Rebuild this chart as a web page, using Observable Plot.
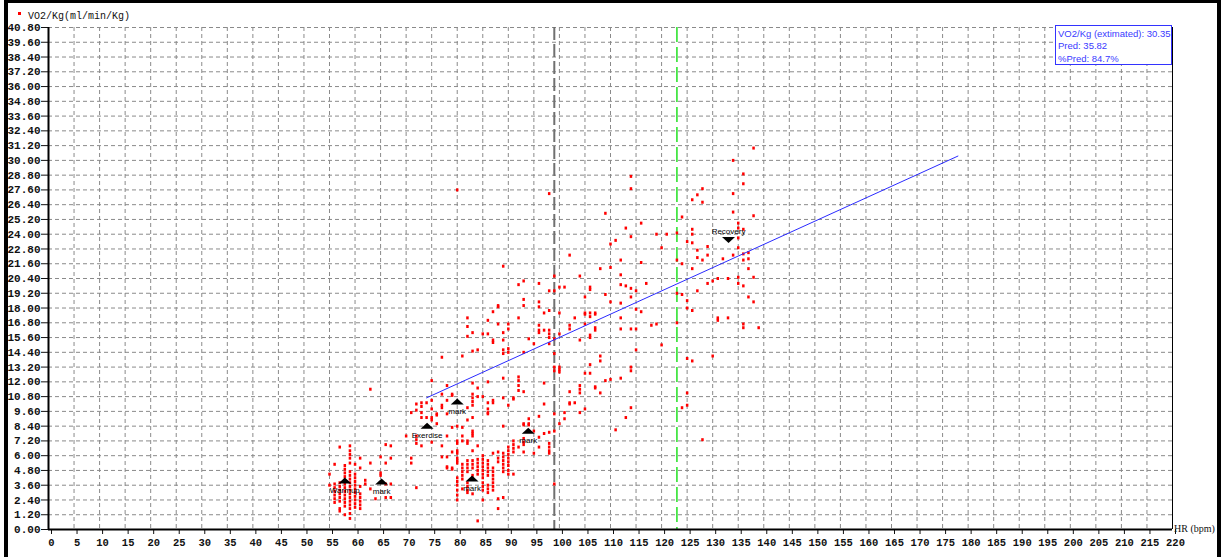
<!DOCTYPE html>
<html><head><meta charset="utf-8">
<script src="https://cdn.jsdelivr.net/npm/d3@7"></script>
<script src="https://cdn.jsdelivr.net/npm/@observablehq/plot@0.6"></script>
<style>
html,body{margin:0;padding:0;background:#fff;}
#wrap{position:relative;width:1223px;height:557px;overflow:hidden;background:#fff;}
#chart{position:absolute;left:0;top:0;}
#frame{position:absolute;left:4px;top:0;width:1217px;height:557px;border-left:4px solid #000;border-right:4px solid #000;border-top:3px solid #000;box-sizing:border-box;pointer-events:none;}
#legend{position:absolute;left:18px;top:11px;font:10px "Liberation Mono",monospace;color:#111;white-space:nowrap;}
#legend .sw{display:inline-block;width:3px;height:3px;background:#f00;margin-right:7px;vertical-align:middle;position:relative;top:-3px;}
#info{position:absolute;left:1055px;top:25px;width:117px;height:40px;border:1px solid #3333ff;box-sizing:border-box;background:#fff;font:9.5px "Liberation Sans",Arial,sans-serif;color:#3a3aff;line-height:12.3px;padding:2px 0 0 2px;white-space:nowrap;}
#xlab{position:absolute;left:1174px;top:523px;font:10px "Liberation Serif",serif;color:#111;white-space:nowrap;}
</style>
</head><body>
<div id="wrap">
  <div id="chart"></div>
  <div id="legend"><span class="sw"></span>VO2/Kg(ml/min/Kg)</div>
  <div id="info"></div>
  <div id="xlab">HR (bpm)</div>
  <div id="frame"></div>
</div>
<script>
// ---- axis ticks ----
const xTicks = [0,5,10,15,20,25,30,35,40,45,50,55,60,65,70,75,80,85,90,95,100,105,110,115,120,125,130,135,140,145,150,155,160,165,170,175,180,185,190,195,200,205,210,215,220];
const yTicks = [0,1.2,2.4,3.6,4.8,6,7.2,8.4,9.6,10.8,12,13.2,14.4,15.6,16.8,18,19.2,20.4,21.6,22.8,24,25.2,26.4,27.6,28.8,30,31.2,32.4,33.6,34.8,36,37.2,38.4,39.6,40.8];

// ---- scatter: [HR, [VO2/Kg values]] ----
const warmupRows = [
  [55, [4.5, 3.6]],
  [56, [5.3, 3.7, 3.4, 3.1, 2.8, 2.5, 2.2]],
  [57, [6.7, 3.8, 3.5, 3.2, 2.9, 2.6, 2.3, 1.7, 1.5]],
  [58, [5.2, 4.9, 4.6, 4.3, 4.0, 3.7, 3.4, 3.1, 2.8, 2.5, 2.2, 1.9, 1.2]],
  [59, [6.8, 6.4, 6.1, 5.8, 5.4, 4.7, 4.4, 4.1, 3.8, 3.5, 3.2, 2.9, 2.6, 2.3, 2.0, 1.7, 1.3, 0.9]],
  [60, [5.3, 4.5, 4.2, 3.9, 3.6, 3.3, 3.0, 2.7, 2.4, 2.1, 1.8]],
  [61, [5.8, 5.0, 3.5, 2.9, 2.6, 2.3, 2.0, 1.7]],
  [62, [4.0, 3.7]],
  [63, [11.4, 5.4, 3.3]],
  [64, [2.5]],
  [65, [5.9, 4.6, 4.4]],
  [66, [6.9, 5.4, 3.7, 2.6]],
  [67, [6.8, 5.8, 3.7, 2.6]]
];
const exerciseRows = [
  [70, [7.6]],
  [71, [9.5, 5.8, 5.4]],
  [72, [10.2, 9.7, 7.6, 7.3, 7.0, 3.4]],
  [73, [10.3, 10.0, 9.5, 9.1, 6.8]],
  [74, [10.3, 9.1, 8.4]],
  [75, [12.1, 10.5, 9.8, 9.1, 8.9, 7.1]],
  [76, [9.4, 9.3, 8.6]],
  [77, [14.0, 11.0, 10.1, 9.9, 6.8, 5.9]],
  [78, [11.7, 10.5, 9.4, 7.6, 5.9, 5.1, 5.0]],
  [79, [11.0, 10.9, 8.3, 6.3, 5.0, 4.9]],
  [80, [27.6, 8.4, 7.2, 7.0, 6.4, 6.2, 5.8, 5.6, 5.4, 4.2, 3.9, 3.6, 3.2, 2.8, 2.4]],
  [81, [14.1, 8.3, 7.6, 7.2, 5.3, 5.0, 4.7, 4.4, 4.1, 3.3]],
  [82, [17.2, 16.5, 15.7, 9.9, 8.9, 7.2, 7.0, 5.6, 5.3, 5.0, 4.7, 3.8, 3.5, 3.2, 3.0]],
  [83, [16.0, 14.5, 11.9, 11.0, 10.7, 10.4, 10.1, 9.1, 8.0, 7.8, 7.6, 6.4, 5.6, 5.3, 5.0, 4.4, 4.1, 2.9]],
  [84, [14.6, 11.5, 10.8, 6.8, 5.7, 5.4, 5.1, 4.8, 4.5, 0.7]],
  [85, [15.9, 10.8, 6.0, 5.7, 5.4, 5.1, 4.8, 4.5, 4.2, 3.8, 3.5, 3.2, 2.4]],
  [86, [17.0, 15.9, 12.0, 10.3, 9.8, 9.5, 9.4, 5.6, 5.3, 5.0, 4.7, 4.4, 3.6, 3.3, 3.0]],
  [87, [17.7, 15.4, 15.2, 10.5, 10.3, 6.2, 5.0, 4.7, 4.4, 4.1, 3.8, 3.5, 3.2]],
  [88, [18.2, 18.1, 16.7, 6.3, 5.8, 5.5, 2.5, 1.7]],
  [89, [21.4, 16.0, 15.4, 14.6, 14.3, 12.3, 10.7, 8.4, 6.2, 5.9, 5.6, 5.3, 5.0, 4.7, 2.6]],
  [90, [16.7, 16.3, 14.7, 14.4, 10.1, 6.7, 6.4, 6.1, 5.8, 5.5, 5.2, 4.8, 4.5]],
  [91, [10.7, 10.6, 7.2, 6.9, 6.6, 6.3, 4.5]],
  [92, [19.9, 17.2, 12.4, 12.1, 11.7, 11.3, 6.7]],
  [93, [20.2, 18.7, 18.2, 14.4, 11.2, 8.6, 8.5, 7.4, 7.1, 6.9, 6.3]],
  [94, [15.5, 9.0, 8.6, 8.5]],
  [95, [15.1, 8.0, 6.2]],
  [96, [20.0, 18.5, 18.1, 16.6, 16.2, 16.0, 9.2, 7.5, 6.7]],
  [97, [17.6, 16.2, 11.9, 10.2, 7.8]],
  [98, [27.3, 19.4, 17.8, 16.2, 15.9, 15.6, 15.1, 7.9, 7.0, 6.7, 6.4, 6.2]],
  [99, [20.6, 19.4, 15.5, 14.3, 13.2, 12.9, 9.4, 8.0, 3.7]],
  [100, [19.7, 17.6, 15.9, 13.2, 13.0, 12.8, 8.6]],
  [101, [19.7, 9.5, 9.0]],
  [102, [22.3, 16.6, 16.3, 11.2, 10.3, 10.2]],
  [103, [17.2, 10.3]],
  [104, [20.6, 15.4, 11.7, 11.4, 11.1, 9.5]],
  [105, [18.9, 17.6, 17.5, 16.7, 12.7, 9.8]],
  [106, [19.7, 19.5, 17.6, 17.3, 15.8, 15.6, 13.4, 12.7]],
  [107, [17.6, 17.5, 16.4, 16.2, 11.6, 11.5]],
  [108, [21.2, 14.1, 13.7, 11.1]],
  [109, [25.7, 19.1, 12.1]],
  [110, [23.2, 21.3, 18.5, 12.2]],
  [111, [23.5, 8.1]],
  [112, [21.9, 20.7, 19.9, 18.4, 17.2, 16.3, 12.3]],
  [113, [24.5, 19.8, 9.1]],
  [114, [28.7, 27.7, 23.8, 19.6, 18.9, 16.3, 13.2, 12.9, 9.9]],
  [115, [19.4, 17.9, 16.3, 14.6]],
  [116, [24.9, 21.7, 17.7]],
  [117, [20.0]],
  [118, [16.6]],
  [119, [24.0, 16.7]],
  [120, [22.9, 15.0]],
  [121, [24.0]]
];
const recoveryRows = [
  [123, [24.1, 21.9, 19.2, 16.8]],
  [124, [25.4, 21.6, 19.1, 9.9]],
  [125, [23.4, 18.6, 18.0, 13.9, 11.1, 10.1]],
  [126, [26.8, 24.4, 24.0, 23.3, 21.2, 17.8, 13.7]],
  [127, [27.2, 22.7, 22.1, 19.4]],
  [128, [27.7, 26.6, 21.9, 7.3]],
  [129, [23.0, 22.3, 20.0]],
  [130, [20.2, 14.1]],
  [131, [20.4, 17.2, 17.0]],
  [132, [22.0]],
  [133, [20.4, 17.2]],
  [134, [30.0, 27.3, 25.8, 22.3]],
  [135, [24.9, 24.5, 23.7, 22.9, 20.5, 20.0]],
  [136, [28.9, 28.1, 24.4, 22.4, 21.9, 19.8, 16.7, 16.4]],
  [137, [22.5, 22.0, 21.2, 18.9]],
  [138, [31.0, 25.5, 20.5, 18.5]],
  [139, [16.4]]
];

// ---- event markers ----
const markerNames = ["Warmup", "mark", "Exercise", "mark", "mark", "mark", "Recovery"];
const markerHR    = [58, 65.2, 74.1, 80, 82.9, 93.9, 133.1];
const markerVO2   = [3.74, 3.66, 8.19, 10.16, 3.9, 7.78, 23.77];
const markerDir   = ["up", "up", "up", "up", "up", "up", "down"];

// ---- fitted line / reference lines ----
const fitHR  = [74, 178];
const fitVO2 = [10.7, 30.35];
const atHR = [99];     // grey dashed
const maxHR = [123];   // green dashed

// ---- info box ----
const infoLines = ["VO2/Kg (extimated): 30.35", "Pred: 35.82", "%Pred: 84.7%"];

// build tables
const points = [];
for (const rows of [warmupRows, exerciseRows, recoveryRows])
  for (const [hr, vals] of rows) for (const v of vals) points.push({hr, vo2: v});
const markers = markerNames.map((name, i) => ({name, hr: markerHR[i], vo2: markerVO2[i], dir: markerDir[i]}));
const upMarks = markers.filter(d => d.dir === "up");
const downMarks = markers.filter(d => d.dir === "down");
const fit = fitHR.map((h, i) => ({hr: h, vo2: fitVO2[i]}));

const info = document.getElementById("info");
for (const line of infoLines) { const d = document.createElement("div"); d.textContent = line; info.appendChild(d); }

const sq = {draw(ctx) { ctx.rect(-1.25, -1.5, 2.5, 3); }};
const triUp = {draw(ctx) { ctx.moveTo(0, -6); ctx.lineTo(6.5, 0); ctx.lineTo(-6.5, 0); ctx.closePath(); }};
const triDown = {draw(ctx) { ctx.moveTo(0, 6); ctx.lineTo(6.5, 0); ctx.lineTo(-6.5, 0); ctx.closePath(); }};
const labelFont = "'Liberation Sans', Arial, sans-serif";

const chart = Plot.plot({
  width: 1223, height: 557,
  marginLeft: 48, marginRight: 51, marginTop: 27, marginBottom: 28,
  x: {domain: [0, 220]},
  y: {domain: [0, 40.8]},
  style: {fontFamily: "'Liberation Mono', monospace", fontSize: "11px", background: "transparent", color: "#111"},
  marks: [
    Plot.gridX(xTicks, {stroke: "#8a8a8a", strokeOpacity: 1, strokeDasharray: "4,3"}),
    Plot.gridY(yTicks, {stroke: "#8a8a8a", strokeOpacity: 1, strokeDasharray: "4,3"}),
    Plot.ruleX(atHR, {stroke: "#707070", strokeWidth: 2, strokeDasharray: "13,4"}),
    Plot.ruleX(maxHR, {stroke: "#22e022", strokeWidth: 1.5, strokeDasharray: "15,5"}),
    Plot.ruleX([220], {stroke: "#000", strokeWidth: 1}),
    Plot.axisY(yTicks, {tickFormat: d3.format(".2f"), tickSize: 7, tickPadding: 1, label: null, fontSize: 11, fontWeight: "bold"}),
    Plot.axisX(xTicks, {tickSize: 5, tickPadding: 4, dx: 3, label: null, fontSize: 10.5, fontWeight: "bold"}),
    Plot.ruleX([0], {stroke: "#000", strokeWidth: 2}),
    Plot.ruleY([0], {stroke: "#000", strokeWidth: 2}),
    Plot.dot(points, {x: "hr", y: "vo2", symbol: sq, fill: "#ff0000", stroke: null}),
    Plot.line(fit, {x: "hr", y: "vo2", stroke: "#2a2aff", strokeWidth: 1}),
    Plot.dot(upMarks, {x: "hr", y: "vo2", symbol: triUp, fill: "#000", stroke: null}),
    Plot.dot(downMarks, {x: "hr", y: "vo2", symbol: triDown, fill: "#000", stroke: null}),
    Plot.text(upMarks, {x: "hr", y: "vo2", text: "name", dy: 7, lineAnchor: "middle", fontFamily: labelFont, fontSize: 8, fill: "#000"}),
    Plot.text(downMarks, {x: "hr", y: "vo2", text: "name", dy: -6, lineAnchor: "middle", fontFamily: labelFont, fontSize: 8, fill: "#000"})
  ]
});
document.getElementById("chart").appendChild(chart);
</script>
</body></html>
